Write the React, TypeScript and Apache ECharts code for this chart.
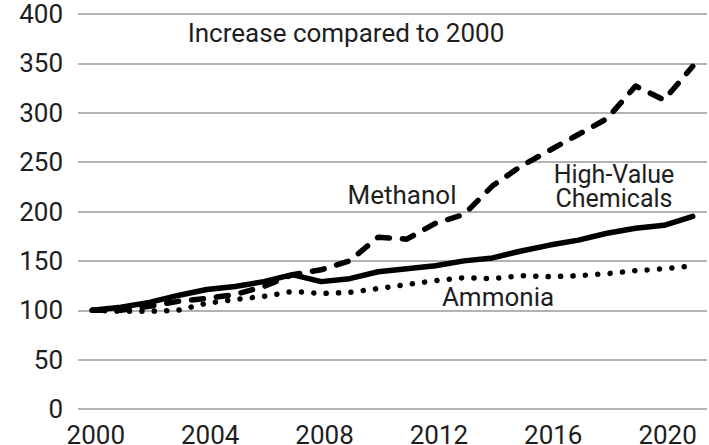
import React, { useEffect, useRef } from "react";
import * as echarts from "echarts";

const years = [
  "2000", "2001", "2002", "2003", "2004", "2005", "2006", "2007", "2008", "2009", "2010",
  "2011", "2012", "2013", "2014", "2015", "2016", "2017", "2018", "2019", "2020", "2021",
];
const methanol = [100, 100, 104, 109, 112, 116, 124, 136, 141, 150, 174, 172, 188, 197, 226, 246, 262, 278, 294, 327, 313, 347];
const hvc = [100, 103, 108, 115, 121, 124, 129, 136, 129, 132, 139, 142, 145, 150, 153, 160, 166, 171, 178, 183, 186, 195];
const ammonia = [100, 99, 99, 100, 107, 111, 114, 119, 117, 118, 122, 126, 130, 133, 132, 135, 134, 135, 137, 140, 142, 145];
const yTicks = { min: 0, max: 400, interval: 50 };

const FONT = "Roboto";
const TEXT = "#1e1e1e";

export default function App() {
  const ref = useRef<HTMLDivElement>(null);
  useEffect(() => {
    if (!ref.current) return;
    const chart = echarts.init(ref.current, null, { renderer: "svg" });
    chart.setOption({
      animation: false,
      backgroundColor: "#ffffff",
      grid: { left: 78, right: 2, top: 14, bottom: 36, containLabel: false, outerBoundsMode: "none" },
      xAxis: {
        type: "category",
        data: years,
        boundaryGap: true,
        axisLine: { show: false },
        axisTick: { show: false },
        axisLabel: {
          interval: 3,
          fontSize: 26,
          fontFamily: FONT,
          color: TEXT,
          margin: 13,
          padding: [0, 0, 0, 7],
        },
        splitLine: { show: false },
      },
      yAxis: {
        type: "value",
        min: yTicks.min,
        max: yTicks.max,
        interval: yTicks.interval,
        axisLine: { show: false },
        axisTick: { show: false },
        axisLabel: { fontSize: 26, fontFamily: FONT, color: TEXT, margin: 15, padding: [3, 0, 0, 0] },
        splitLine: { lineStyle: { color: "#b3b3b3", width: 2 } },
      },
      series: [
        {
          name: "Ammonia",
          type: "line",
          data: ammonia,
          symbol: "none",
          lineStyle: { color: "#000", width: 5.5, type: [0.1, 12.3], cap: "round", join: "round" },
        },
        {
          name: "High-Value Chemicals",
          type: "line",
          data: hvc,
          symbol: "none",
          lineStyle: { color: "#000", width: 5.5, type: "solid", cap: "round", join: "round" },
        },
        {
          name: "Methanol",
          type: "line",
          data: methanol,
          symbol: "none",
          lineStyle: { color: "#000", width: 5.5, type: [12, 13], cap: "round", join: "round" },
        },
      ],
      graphic: [
        {
          type: "text",
          x: 346,
          y: 33,
          style: { text: "Increase compared to 2000", font: `26px ${FONT}`, fill: TEXT, align: "center", verticalAlign: "middle" },
        },
        {
          type: "text",
          x: 402,
          y: 195,
          style: { text: "Methanol", font: `26px ${FONT}`, fill: TEXT, align: "center", verticalAlign: "middle" },
        },
        {
          type: "text",
          x: 614,
          y: 174,
          style: { text: "High-Value", font: `25px ${FONT}`, fill: TEXT, align: "center", verticalAlign: "middle" },
        },
        {
          type: "text",
          x: 614,
          y: 198,
          style: { text: "Chemicals", font: `25px ${FONT}`, fill: TEXT, align: "center", verticalAlign: "middle" },
        },
        {
          type: "text",
          x: 498,
          y: 297,
          style: { text: "Ammonia", font: `26px ${FONT}`, fill: TEXT, align: "center", verticalAlign: "middle" },
        },
      ],
    });
    return () => chart.dispose();
  }, []);
  return <div ref={ref} style={{ width: 709, height: 445, position: "absolute", left: 0, top: 0 }} />;
}
